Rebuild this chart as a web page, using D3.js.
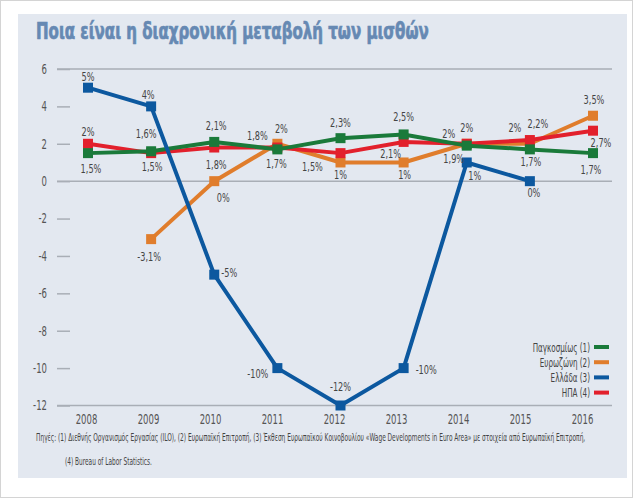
<!DOCTYPE html>
<html>
<head>
<meta charset="utf-8">
<script src="https://cdn.jsdelivr.net/npm/d3@7/dist/d3.min.js"></script>
<style>
html,body{margin:0;padding:0;background:#fff;}
svg text{font-family:"DejaVu Sans Condensed","DejaVu Sans",sans-serif;}
</style>
</head>
<body>
<svg id="chart" width="640" height="499"></svg>
<script>
// ---------- data ----------
const title = "Ποια είναι η διαχρονική μεταβολή των μισθών";
const years = [2008, 2009, 2010, 2011, 2012, 2013, 2014, 2015, 2016];
const yTicks = [6, 4, 2, 0, -2, -4, -6, -8, -10, -12];
const seriesNames = ["Παγκοσμίως (1)", "Ευρωζώνη (2)", "Ελλάδα (3)", "ΗΠΑ (4)"];
const seriesColors = ["#1a7a3a", "#e07d2c", "#0c589f", "#e2202c"];
const worldValues = [1.5, 1.6, 2.1, 1.7, 2.3, 2.5, 1.9, 1.7, 1.5];
const eurozoneValues = [null, -3.1, 0, 2, 1, 1, 2, 2, 3.5];
const greeceValues = [5, 4, -5, -10, -12, -10, 1, 0, null];
const usaValues = [2, 1.5, 1.8, 1.8, 1.5, 2.1, 2, 2.2, 2.7];
const worldLabels = ["1,5%", "1,6%", "2,1%", "1,7%", "2,3%", "2,5%", "1,9%", "1,7%", "1,7%"];
const eurozoneLabels = [null, "-3,1%", "0%", "2%", "1%", "1%", "2%", "2%", "3,5%"];
const greeceLabels = ["5%", "4%", "-5%", "-10%", "-12%", "-10%", "1%", "0%", null];
const usaLabels = ["2%", "1,5%", "1,8%", "1,8%", "1,5%", "2,1%", "2%", "2,2%", "2,7%"];
const footnote1 = "Πηγές: (1) Διεθνής Οργανισμός Εργασίας (ILO), (2) Ευρωπαϊκή Επιτροπή,  (3) Έκθεση Ευρωπαϊκού Κοινοβουλίου «Wage Developments in Euro Area» με στοιχεία από Ευρωπαϊκή Επιτροπή,";
const footnote2 = "(4) Bureau of Labor Statistics.";

// ---------- label layout (offsets from the point, [dx, dy, anchor]) ----------
const worldLabelPos = [[3,16,"middle"],[-5,-17,"middle"],[2,-16,"middle"],[-1,15,"middle"],[0,-15,"middle"],[0,-17,"middle"],[-13,13,"middle"],[1,13,"middle"],[-2,17,"middle"]];
const eurozoneLabelPos = [null,[-2,18,"middle"],[9,17,"middle"],[4,-15,"middle"],[0,12,"middle"],[1,12,"middle"],[0,-16,"middle"],[-15,-16,"middle"],[1,-16,"middle"]];
const greeceLabelPos = [[0,-11,"middle"],[-3,-11,"middle"],[7,-2,"start"],[-9,6,"end"],[0,-19,"middle"],[12,2,"start"],[8,13,"middle"],[4,12,"middle"],null];
const usaLabelPos = [[0,-12,"middle"],[1,14,"middle"],[2,17,"middle"],[-20,-12,"middle"],[-28,14,"middle"],[-13,12,"middle"],[-18,-10,"middle"],[8,-16,"middle"],[8,12,"middle"]];

const series = [
  {name: seriesNames[1], color: seriesColors[1], values: eurozoneValues, labels: eurozoneLabels, pos: eurozoneLabelPos},
  {name: seriesNames[3], color: seriesColors[3], values: usaValues, labels: usaLabels, pos: usaLabelPos},
  {name: seriesNames[0], color: seriesColors[0], values: worldValues, labels: worldLabels, pos: worldLabelPos},
  {name: seriesNames[2], color: seriesColors[2], values: greeceValues, labels: greeceLabels, pos: greeceLabelPos}
];

const SX = 0.7; // horizontal compression to mimic the narrow typeface

// ---------- drawing ----------
const svg = d3.select("#chart");
svg.append("rect").attr("x",0.5).attr("y",0.5).attr("width",632).attr("height",497)
  .attr("fill","#fff").attr("stroke","#d4d4d4");
svg.append("rect").attr("x",18).attr("y",14).attr("width",609).attr("height",464).attr("fill","#e3e8f0");

// text fitted to a given width with a horizontal scale
function fitText(str, x0, y0, width, size, attrs) {
  const t = svg.append("text").attr("font-size", size).text(str);
  Object.entries(attrs || {}).forEach(([k,v]) => t.attr(k, v));
  const w = t.node().getComputedTextLength();
  t.attr("transform", `translate(${x0},${y0}) scale(${width / w},1)`);
  return t;
}

fitText(title, 36, 39, 393, 22.5, {"font-weight":"bold", fill:"#6689b3", stroke:"#6689b3", "stroke-width":0.7});

const x = d3.scalePoint().domain(years).range([88, 593]);
const xLab = d3.scalePoint().domain(years).range([86, 582]);
const y = d3.scaleLinear().domain([-12, 6]).range([405.5, 69]);

// y axis ticks & labels
const yAxis = d3.axisLeft(y).tickValues(yTicks).tickSize(13).tickPadding(10).tickFormat(d => String(d));
const gy = svg.append("g").attr("transform","translate(70,0)").call(yAxis);
gy.select(".domain").remove();
gy.selectAll(".tick line").attr("stroke","#a9aeb6").attr("stroke-width",1.5);
gy.selectAll(".tick text").attr("font-size",13.5).attr("fill","#555").attr("font-family",null)
  .attr("x", -23/SX).attr("transform",`scale(${SX},1)`);

// full grid lines at 6, 0, -12
svg.append("g").selectAll("line").data([6, 0, -12]).join("line")
  .attr("x1",57).attr("x2",612).attr("y1",d=>y(d)).attr("y2",d=>y(d))
  .attr("stroke","#a9aeb6").attr("stroke-width",1.5);

// x axis labels
const xAxis = d3.axisBottom(xLab).tickSize(0).tickPadding(8);
const gx = svg.append("g").attr("transform","translate(0,406)").call(xAxis);
gx.select(".domain").remove();
gx.selectAll(".tick text").attr("font-size",13.5).attr("fill","#555").attr("font-family",null)
  .attr("transform",`scale(${SX},1)`);

// lines & markers
const line = d3.line().defined(d=>d.v!=null).x(d=>x(d.year)).y(d=>y(d.v));
series.forEach(s=>{
  const pts = years.map((yr,i)=>({year:yr, v:s.values[i], label:s.labels[i], pos:s.pos[i]}));
  const g = svg.append("g");
  g.append("path").datum(pts).attr("d",line).attr("fill","none")
    .attr("stroke",s.color).attr("stroke-width",4).attr("stroke-linejoin","round");
  g.selectAll("rect").data(pts.filter(d=>d.v!=null)).join("rect")
    .attr("x",d=>x(d.year)-5).attr("y",d=>y(d.v)-5).attr("width",10).attr("height",10)
    .attr("fill",s.color);
  s.pts = pts;
});
// data labels on top
series.forEach(s=>{
  svg.append("g").selectAll("text").data(s.pts.filter(d=>d.label!=null)).join("text")
    .attr("transform",d=>`translate(${x(d.year)+d.pos[0]},${y(d.v)+d.pos[1]}) scale(${SX},1)`)
    .attr("text-anchor",d=>d.pos[2]).attr("dominant-baseline","central")
    .attr("font-size",13).attr("fill","#444").text(d=>d.label);
});

// legend
const lg = svg.append("g");
seriesNames.forEach((nm,i)=>{
  const yy = 347 + i*15.2;
  lg.append("text").attr("transform",`translate(590,${yy}) scale(0.64,1)`).attr("text-anchor","end")
    .attr("dominant-baseline","central").attr("font-size",12.5).attr("fill","#444").text(nm);
  lg.append("line").attr("x1",594).attr("x2",609).attr("y1",yy).attr("y2",yy)
    .attr("stroke",seriesColors[i]).attr("stroke-width",4);
});

// footnote
fitText(footnote1, 36, 441, 550, 11, {fill:"#444"});
fitText(footnote2, 65, 465, 87, 11, {fill:"#444"});
</script>
</body>
</html>
